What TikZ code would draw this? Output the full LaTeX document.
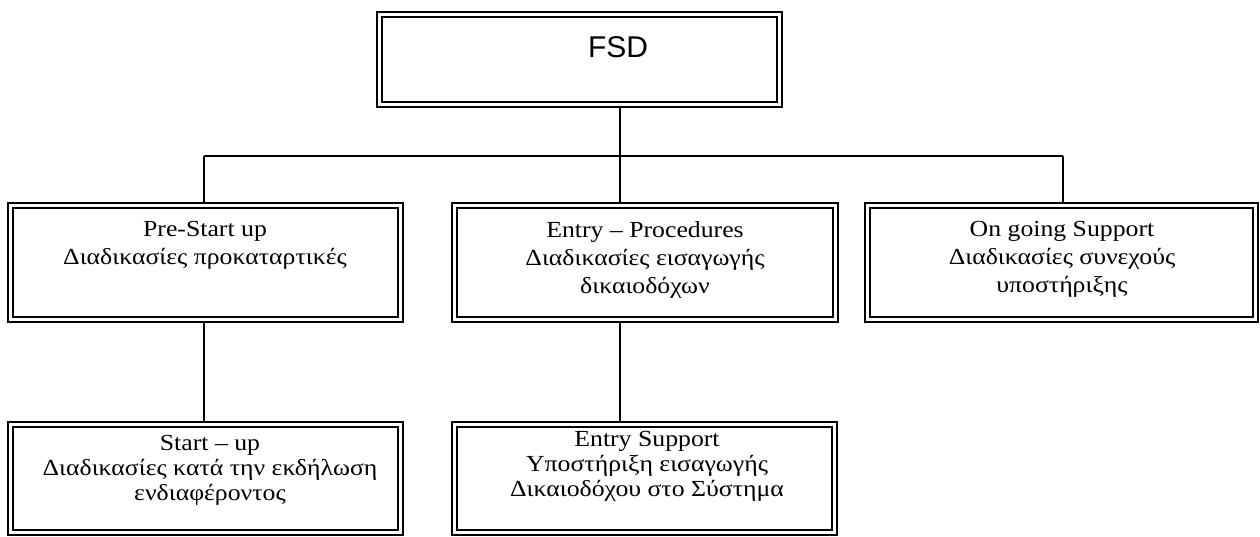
\documentclass[tikz,border=0pt]{standalone}
\usepackage{fontspec}
\setmainfont{Liberation Serif}[FakeStretch=1.12]
\newfontfamily\sansf{Liberation Sans}
\begin{document}
\begin{tikzpicture}[x=1pt,y=-1pt,
  boxo/.style={draw=black, line width=2.4pt, inner sep=0pt, outer sep=0pt, anchor=north west},
  boxi/.style={draw=black, line width=1.3pt},
  lbl/.style={align=center, anchor=north, inner sep=0pt, font=\fontsize{23}{28}\selectfont},
  lblb/.style={lbl, font=\fontsize{23}{25}\selectfont},
  conn/.style={draw=black, line width=1.8pt}]
\useasboundingbox (0,0) rectangle (1260,537);
% boxes
\node[boxo, minimum width=405pt, minimum height=95pt] (fsd) at (377,12) {};
\node[boxo, minimum width=395pt, minimum height=119pt] (pre) at (8,203) {};
\node[boxo, minimum width=386pt, minimum height=119pt] (entry) at (452,203) {};
\node[boxo, minimum width=393pt, minimum height=119pt] (ongo) at (865,203) {};
\node[boxo, minimum width=395pt, minimum height=113pt] (start) at (8,422) {};
\node[boxo, minimum width=385pt, minimum height=113pt] (esup) at (452,422) {};
\foreach \n in {fsd,pre,entry,ongo,start,esup}{
  \draw[boxi] ([shift={(5pt,-5pt)}]\n.north west) rectangle ([shift={(-5pt,5pt)}]\n.south east);
}
% labels
\node[font=\sansf\fontsize{30}{34}\selectfont, inner sep=0pt] (tfsd) at (618,47) {FSD};
\node[lbl] (tpre) at (205,221) {Pre-Start up\\Διαδικασίες προκαταρτικές};
\node[lbl] (tentry) at (645,221) {Entry – Procedures\\Διαδικασίες εισαγωγής\\δικαιοδόχων};
\node[lbl] (tongo) at (1062,221) {On going Support\\Διαδικασίες συνεχούς\\υποστήριξης};
\node[lblb] (tstart) at (210,435) {Start – up\\Διαδικασίες κατά την εκδήλωση\\ενδιαφέροντος};
\node[lblb] (tesup) at (647,431) {Entry Support\\Υποστήριξη εισαγωγής\\Δικαιοδόχου στο Σύστημα};
% connectors
\coordinate (bl) at (204,156);
\coordinate (bm) at (620,156);
\coordinate (br) at (1063,156);
\draw[conn] (bm |- fsd.south) -- (bm);
\draw[conn] (bl) -- (br);
\draw[conn] (bl) -- (bl |- pre.north);
\draw[conn] (bm) -- (bm |- entry.north);
\draw[conn] (br) -- (br |- ongo.north);
\draw[conn] (bl |- pre.south) -- (bl |- start.north);
\draw[conn] (bm |- entry.south) -- (bm |- esup.north);
\end{tikzpicture}
\end{document}
